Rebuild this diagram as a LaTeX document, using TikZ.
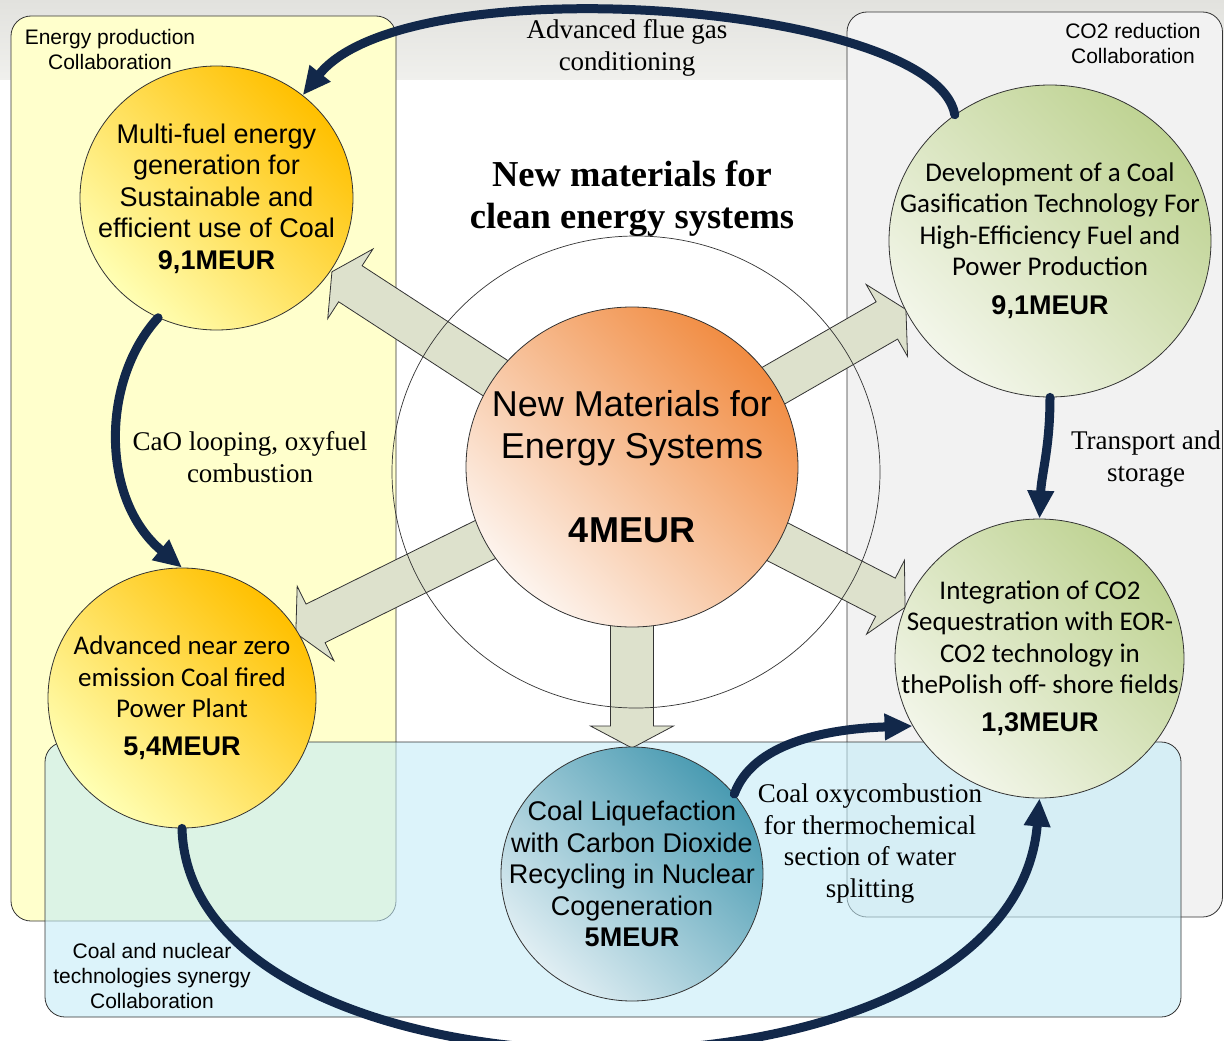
\documentclass[tikz,border=0pt]{standalone}
\usepackage{fontspec}
\setmainfont{Liberation Serif}
\newfontfamily\arialfont{Liberation Sans}
\newfontfamily\calfont{Carlito}
\usetikzlibrary{shapes.geometric,arrows.meta}

\definecolor{linknavy}{HTML}{12284A}
\definecolor{yellowzone}{HTML}{FFFFCC}
\definecolor{greyzone}{HTML}{F2F2F2}
\definecolor{bluezone}{HTML}{C4ECF8}
\definecolor{spoke}{HTML}{DDE1CC}
\definecolor{edge}{HTML}{333333}
\definecolor{goldA}{HTML}{FFC000}
\definecolor{goldB}{HTML}{FFEC7A}
\definecolor{goldC}{HTML}{FFFFB4}
\definecolor{orangeA}{HTML}{F18C42}
\definecolor{orangeB}{HTML}{F8CBAA}
\definecolor{orangeC}{HTML}{FDF4EE}
\definecolor{greenA}{HTML}{BFD393}
\definecolor{greenB}{HTML}{DFE9C8}
\definecolor{greenC}{HTML}{F3F6EA}
\definecolor{tealA}{HTML}{4A9BB2}
\definecolor{tealB}{HTML}{9DC9D7}
\definecolor{tealC}{HTML}{E0EEF3}

% a wide, flat-headed arrow leaving the core along a given direction
\newcommand\radialarrow[2]{%
  \begin{scope}[shift={(core-c)}, rotate=#1]
    \draw[spokearrow] (0,-21.5) -- (#2,-21.5) -- (#2,-41.5) -- ({#2+22},0)
      -- (#2,41.5) -- (#2,21.5) -- (0,21.5) -- cycle;
  \end{scope}}

\begin{document}
\begin{tikzpicture}[x=1pt, y=-1pt,
  frame/.style={draw=edge, line width=0.8pt, rounded corners=20pt},
  bubble/.style={ellipse, draw=edge, line width=0.8pt, inner sep=0pt},
  diag/.style n args={3}{top color=#1, middle color=#2, bottom color=#3, shading angle=-45},
  goldbubble/.style={bubble, diag={goldA}{goldB}{goldC}},
  greenbubble/.style={bubble, diag={greenA}{greenB}{greenC}},
  spokearrow/.style={draw=edge, line width=0.8pt, fill=spoke, line join=miter},
  link/.style={draw=linknavy, line width=9pt, line cap=round,
    -{Triangle[length=28pt,width=25pt]}},
  sansbody/.style={font={\arialfont\fontsize{27}{31.5}\selectfont}, align=center},
  calbody/.style={font={\calfont\fontsize{27}{31.5}\selectfont}, align=center},
  zonelabel/.style={font={\arialfont\fontsize{21}{25}\selectfont}, align=center},
  linklabel/.style={font={\fontsize{27}{31.5}\selectfont}, align=center}]

\useasboundingbox (0,0) rectangle (1224,1041);

% page background with a soft grey band along the top
\fill[white] (0,0) rectangle (1224,1041);
\shade[top color={rgb,255:red,226;green,226;blue,222},
       bottom color={rgb,255:red,240;green,240;blue,237}] (0,0) rectangle (1224,80);

% collaboration zones
\draw[frame, fill=yellowzone] (11,16) rectangle (396,921);
\draw[frame, fill=greyzone] (847,12) rectangle (1222.5,917);
\draw[frame, fill=bluezone, fill opacity=0.59] (45,742) rectangle (1181,1017);

% spokes from the core to the five projects
\coordinate (core-c) at (632,467);
\radialarrow{146.95}{336}
\radialarrow{29.9}{294}
\radialarrow{206.3}{353}
\radialarrow{-27.2}{285}
\radialarrow{270}{259}

\node[ellipse, draw=edge, line width=0.7pt, minimum width=488pt, minimum height=472pt] (ring) at (636,472) {};

% project bubbles
\node[bubble, diag={orangeA}{orangeB}{orangeC}, minimum width=332pt, minimum height=320pt] (core) at (core-c) {};
\node[goldbubble, minimum width=273pt, minimum height=264pt] (tl) at (216.5,198) {};
\node[goldbubble, minimum width=268pt, minimum height=260pt] (bl) at (182,698) {};
\node[greenbubble, minimum width=322pt, minimum height=312pt] (tr) at (1050,241) {};
\node[greenbubble, minimum width=289pt, minimum height=279pt] (br) at (1039.5,658.5) {};
\node[bubble, diag={tealA}{tealB}{tealC}, minimum width=262pt, minimum height=254pt] (bm) at (632,874) {};

% bubble texts
\node[font={\arialfont\fontsize{36}{42}\selectfont}, align=center] (core-t) at (632,467) {New Materials for\\Energy Systems\\[42pt]\textbf{4MEUR}};
\node[sansbody] (tl-t) at (216.5,198.5) {Multi-fuel energy\\generation for\\Sustainable and\\efficient use of Coal\\\textbf{9,1MEUR}};
\node[calbody] (tr-t) at (1050,240.5) {Development of a Coal\\Gasification Technology For\\High-Efficiency Fuel and\\Power Production\\[7pt]{\arialfont\bfseries 9,1MEUR}};
\node[calbody] (br-t) at (1040,658) {Integration of CO2\\Sequestration with EOR-\\CO2 technology in\\thePolish off- shore fields\\[6pt]{\arialfont\bfseries 1,3MEUR}};
\node[calbody] (bl-t) at (182,697.5) {Advanced near zero\\emission Coal fired\\Power Plant\\[6pt]{\arialfont\bfseries 5,4MEUR}};
\node[sansbody] (bm-t) at (632,874) {Coal Liquefaction\\with Carbon Dioxide\\Recycling in Nuclear\\Cogeneration\\\textbf{5MEUR}};

% heading
\node[font={\bfseries\fontsize{36.5}{42}\selectfont}, align=center] (title) at (632,199) {New materials for\\clean energy systems};

% zone names
\node[zonelabel] (zone-energy) at (110,49.5) {Energy production\\Collaboration};
\node[zonelabel] (zone-co2) at (1133,43.5) {CO2 reduction\\Collaboration};
\node[zonelabel] (zone-synergy) at (152,976) {Coal and nuclear\\technologies synergy\\Collaboration};

% links between projects
\draw[link] (tr.127) .. controls +(-20,-112) and +(104,-131) .. (tl.50);
\draw[link] (tl.244) .. controls +(-57,62) and +(-82,-68) .. (bl.north);
\draw[link] (tr.south) .. controls +(0,50) and +(2,-45) .. (br.north);
\draw[link] (bm.38) .. controls +(18,-50) and +(-89,3) .. (br.208);
\draw[link] (bl.south) .. controls +(8,292) and +(-28,332) .. (br.south);

% link labels
\node[linklabel] (lbl-flue) at (627,48) {Advanced flue gas\\conditioning};
\node[linklabel] (lbl-cao) at (250,457) {CaO looping, oxyfuel\\combustion};
\node[linklabel] (lbl-transport) at (1146,459) {Transport and\\storage};
\node[linklabel] (lbl-oxy) at (870,843.5) {Coal oxycombustion\\for thermochemical\\section of water\\splitting};

\end{tikzpicture}
\end{document}
